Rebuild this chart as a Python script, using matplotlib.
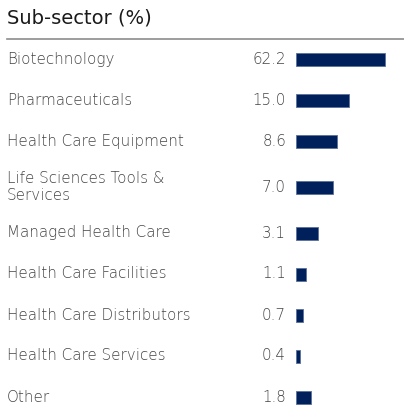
import numpy as np
import matplotlib
matplotlib.use("Agg")
import matplotlib.pyplot as plt

plt.rcParams['font.family'] = ['DejaVu Sans']

title = "Sub-sector (%)"
categories = ["Biotechnology", "Pharmaceuticals", "Health Care Equipment",
              "Life Sciences Tools &\nServices", "Managed Health Care",
              "Health Care Facilities", "Health Care Distributors",
              "Health Care Services", "Other"]
values = [62.2, 15.0, 8.6, 7.0, 3.1, 1.1, 0.7, 0.4, 1.8]
value_labels = ["62.2", "15.0", "8.6", "7.0", "3.1", "1.1", "0.7", "0.4", "1.8"]

W, H = 404, 413
fig = plt.figure(figsize=(W / 100, H / 100), dpi=100)

bg = fig.add_axes([0, 0, 1, 1])
bg.set_xlim(0, W)
bg.set_ylim(H, 0)
bg.axis('off')

bar_color = "#00205b"
label_color = "#444444"

first_center = 59.5
row_h = 41
extra_line = 9.5
centers = []
y = first_center
for i, cat in enumerate(categories):
    nlines = cat.count("\n") + 1
    if i > 0:
        prev_lines = categories[i - 1].count("\n") + 1
        y += row_h + (prev_lines - 1) * extra_line / 2 + (nlines - 1) * extra_line / 2
    centers.append(y)

bg.text(7, 18.5, title, fontsize=14, color="#1a1a1a", va='center', ha='left')
bg.plot([7, W], [39, 39], color="#8c8c8c", lw=1.2)

for cat, lab, cy in zip(categories, value_labels, centers):
    bg.text(7, cy, cat, fontsize=10.9, color=label_color, va='center', ha='left',
            linespacing=1.2, fontweight='ultralight')
    bg.text(286, cy, lab, fontsize=10.9, color=label_color, va='center', ha='right',
            fontweight='ultralight')

bar_left, bar_right = 296, W
ax = fig.add_axes([bar_left / W, 0, (bar_right - bar_left) / W, 1])
c = 2.5
fwd = lambda v: np.log1p(np.maximum(v, 0) / c)
inv = lambda u: c * np.expm1(u)
ax.set_xscale('function', functions=(fwd, inv))
xmax = inv(fwd(max(values)) * (bar_right - bar_left) / 89.0)
ax.set_xlim(0, xmax)
ax.set_ylim(H, 0)
ax.barh(centers, values, height=13, left=0, color=bar_color,
        edgecolor="#5a6f99", linewidth=0.6)
ax.axis('off')

fig.savefig("out.png", dpi=100)
